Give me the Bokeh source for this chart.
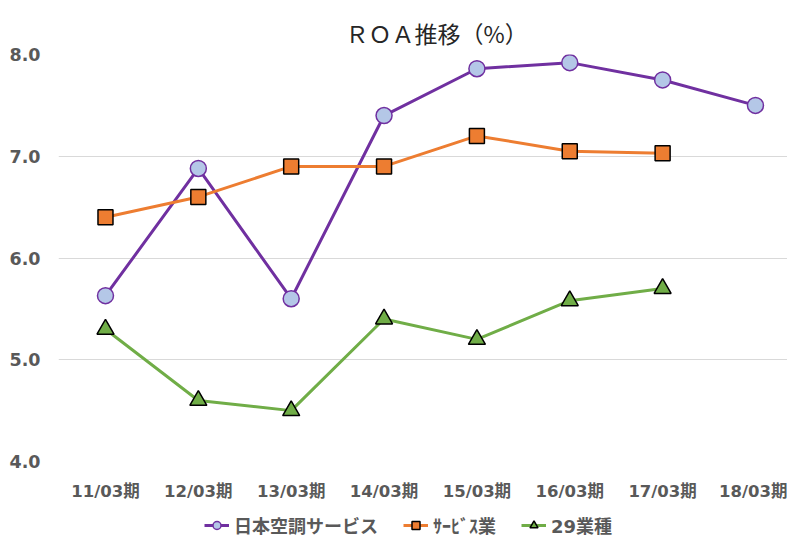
from bokeh.plotting import figure
from bokeh.models import Range1d, FixedTicker, Legend, LegendItem, CustomJSTickFormatter
from bokeh.layouts import column
from bokeh.embed import file_html
from bokeh.resources import INLINE

periods = ["11/03期", "12/03期", "13/03期", "14/03期", "15/03期", "16/03期", "17/03期", "18/03期"]
nikku = [5.63, 6.88, 5.60, 7.40, 7.86, 7.92, 7.75, 7.50]
service = [6.40, 6.60, 6.90, 6.90, 7.20, 7.05, 7.03]
gyoshu29 = [5.30, 4.60, 4.50, 5.40, 5.20, 5.58, 5.70]
y_ticks = [4.0, 5.0, 6.0, 7.0, 8.0]
series_names = ["日本空調サービス", "ｻｰﾋﾞｽ業", "29業種"]

FONT = "DejaVu Sans, Noto Sans CJK JP"
GRAY = "#595959"
PURPLE = "#7030a0"
ORANGE = "#ed7d31"
GREEN = "#70ad47"

p = figure(width=787, height=510, output_backend="svg", toolbar_location=None,
           x_range=Range1d(-0.506, 7.345), y_range=Range1d(4.0, 8.0),
           title="ＲＯＡ推移（%）")
p.min_border_left = 58
p.min_border_right = 0
p.min_border_top = 54
p.min_border_bottom = 49
p.outline_line_color = None

p.title.align = "left"
p.title.offset = 287
p.title.text_font = "Noto Sans CJK JP"
p.title.text_font_size = "23px"
p.title.text_font_style = "normal"
p.title.text_color = "#262626"

xs = list(range(len(periods)))
p.xaxis.ticker = FixedTicker(ticks=xs)
p.xaxis.major_label_overrides = {i: s for i, s in enumerate(periods)}
p.yaxis.ticker = FixedTicker(ticks=y_ticks)
p.yaxis.formatter = CustomJSTickFormatter(code="return tick.toFixed(1);")

for ax in (p.xaxis[0], p.yaxis[0]):
    ax.axis_line_color = None
    ax.major_tick_line_color = None
    ax.minor_tick_line_color = None
    ax.major_tick_out = 0
    ax.major_tick_in = 0
    ax.major_label_text_font = FONT
    ax.major_label_text_font_style = "bold"
    ax.major_label_text_color = GRAY
p.xaxis.major_label_text_font_size = "16.5px"
p.yaxis.major_label_text_font_size = "17.5px"
p.xaxis.major_label_standoff = 20
p.yaxis.major_label_standoff = 18

p.xgrid.grid_line_color = None
p.ygrid.grid_line_color = "#d9d9d9"
p.ygrid.grid_line_width = 1

styles = [
    dict(color=PURPLE, marker="circle", size=16, fill="#b4c7e7", outline=PURPLE),
    dict(color=ORANGE, marker="square", size=15, fill=ORANGE, outline="black"),
    dict(color=GREEN, marker="triangle", size=17, fill=GREEN, outline="black"),
]

for vals, st in zip([nikku, service, gyoshu29], styles):
    p.line(xs[:len(vals)], vals, line_color=st["color"], line_width=3)
    p.scatter(xs[:len(vals)], vals, marker=st["marker"], size=st["size"],
              fill_color=st["fill"], line_color=st["outline"], line_width=1.5)

# legend strip below the chart (proxy glyphs lie outside the visible range)
lf = figure(width=787, height=28, output_backend="svg", toolbar_location=None,
            x_range=Range1d(0, 1), y_range=Range1d(0, 1))
lf.axis.visible = False
lf.grid.visible = False
lf.outline_line_color = None
lf.min_border = 0
items = []
for name, st in zip(series_names, styles):
    lr = lf.line([-5, -4], [-5, -4], line_color=st["color"], line_width=3)
    sr = lf.scatter([-5], [-5], marker=st["marker"], size=st["size"] - 2,
                    fill_color=st["fill"], line_color=st["outline"], line_width=1.5)
    items.append(LegendItem(label=name, renderers=[lr, sr]))
legend = Legend(items=items, orientation="horizontal", location=(146, 0))
legend.label_text_font = FONT
legend.label_text_font_style = "bold"
legend.label_text_font_size = "18px"
legend.label_text_color = GRAY
legend.border_line_color = None
legend.background_fill_alpha = 0
legend.glyph_width = 25
legend.glyph_height = 20
legend.label_height = 20
legend.spacing = 25
legend.label_standoff = 5
legend.padding = 4
legend.margin = 0
lf.add_layout(legend, "center")

layout = column(p, lf, spacing=0)
open("out.html", "w").write(file_html(layout, INLINE))
